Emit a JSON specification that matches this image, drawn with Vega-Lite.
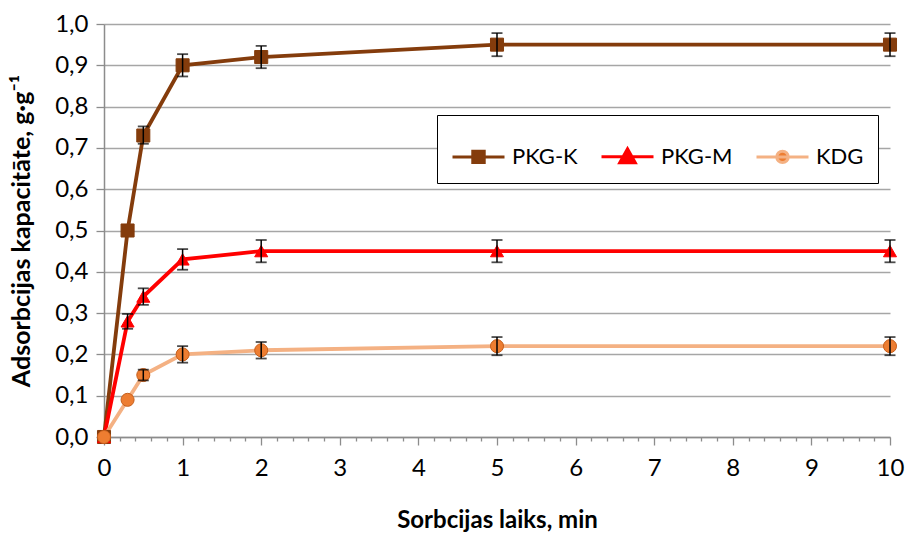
{
  "$schema": "https://vega.github.io/schema/vega-lite/v6.json",
  "width": 786,
  "height": 413,
  "autosize": {"type": "none"},
  "padding": {"left": 104, "top": 24, "right": 17, "bottom": 96},
  "background": "white",
  "config": {
    "view": {"stroke": null},
    "font": "Lato",
    "axis": {"labelFont": "Lato", "titleFont": "Lato", "labelColor": "black", "titleColor": "black"}
  },
  "data": {
    "values": [
      {"series": "PKG-K", "t": 0, "v": 0},
      {"series": "PKG-K", "t": 0.3, "v": 0.5},
      {"series": "PKG-K", "t": 0.5, "v": 0.73, "lo": 0.71, "hi": 0.752},
      {"series": "PKG-K", "t": 1, "v": 0.9, "lo": 0.873, "hi": 0.927},
      {"series": "PKG-K", "t": 2, "v": 0.92, "lo": 0.893, "hi": 0.947},
      {"series": "PKG-K", "t": 5, "v": 0.95, "lo": 0.922, "hi": 0.978},
      {"series": "PKG-K", "t": 10, "v": 0.95, "lo": 0.922, "hi": 0.978},
      {"series": "PKG-M", "t": 0, "v": 0},
      {"series": "PKG-M", "t": 0.3, "v": 0.28, "lo": 0.262, "hi": 0.298},
      {"series": "PKG-M", "t": 0.5, "v": 0.34, "lo": 0.32, "hi": 0.36},
      {"series": "PKG-M", "t": 1, "v": 0.43, "lo": 0.405, "hi": 0.455},
      {"series": "PKG-M", "t": 2, "v": 0.45, "lo": 0.423, "hi": 0.477},
      {"series": "PKG-M", "t": 5, "v": 0.45, "lo": 0.423, "hi": 0.477},
      {"series": "PKG-M", "t": 10, "v": 0.45, "lo": 0.423, "hi": 0.477},
      {"series": "KDG", "t": 0, "v": 0},
      {"series": "KDG", "t": 0.3, "v": 0.09},
      {"series": "KDG", "t": 0.5, "v": 0.15, "lo": 0.137, "hi": 0.163},
      {"series": "KDG", "t": 1, "v": 0.2, "lo": 0.18, "hi": 0.22},
      {"series": "KDG", "t": 2, "v": 0.21, "lo": 0.19, "hi": 0.23},
      {"series": "KDG", "t": 5, "v": 0.22, "lo": 0.198, "hi": 0.242},
      {"series": "KDG", "t": 10, "v": 0.22, "lo": 0.198, "hi": 0.242}
    ]
  },
  "encoding": {
    "x": {
      "field": "t",
      "type": "quantitative",
      "scale": {"domain": [0, 10], "nice": false},
      "axis": {
        "title": "Sorbcijas laiks, min",
        "titleFontSize": 24,
        "titleFontWeight": "bold",
        "titlePadding": 28,
        "labelFontSize": 24,
        "labelPadding": 11,
        "labelOverlap": false,
        "labelBound": false,
        "labelFlush": false,
        "grid": false,
        "domainColor": "#8c8c8c",
        "domainWidth": 1.5,
        "tickColor": "#8c8c8c",
        "tickWidth": 1.3,
        "tickSize": {"condition": {"test": "datum.value % 1 !== 0", "value": 4}, "value": 8},
        "values": [0, 0.2, 0.4, 0.6, 0.8, 1, 1.2, 1.4, 1.6, 1.8, 2, 2.2, 2.4, 2.6, 2.8, 3, 3.2, 3.4, 3.6, 3.8, 4, 4.2, 4.4, 4.6, 4.8, 5, 5.2, 5.4, 5.6, 5.8, 6, 6.2, 6.4, 6.6, 6.8, 7, 7.2, 7.4, 7.6, 7.8, 8, 8.2, 8.4, 8.6, 8.8, 9, 9.2, 9.4, 9.6, 9.8, 10],
        "labelExpr": "datum.value % 1 === 0 ? format(datum.value, 'd') : ''"
      }
    },
    "y": {
      "field": "v",
      "type": "quantitative",
      "scale": {"domain": [0, 1], "nice": false},
      "axis": {
        "title": "Adsorbcijas kapacitāte, g·g⁻¹",
        "titleFontSize": 25,
        "titleFontWeight": "bold",
        "titlePadding": 20,
        "labelFontSize": 24,
        "labelPadding": 8,
        "values": [0, 0.1, 0.2, 0.3, 0.4, 0.5, 0.6, 0.7, 0.8, 0.9, 1],
        "labelExpr": "replace(format(datum.value, '.1f'), '.', ',')",
        "gridColor": "#a6a6a6",
        "gridWidth": 1.3,
        "domainColor": "#8c8c8c",
        "domainWidth": 1.5,
        "tickColor": "#8c8c8c",
        "tickWidth": 1.3,
        "tickSize": 8
      }
    }
  },
  "layer": [
    {
      "transform": [{"filter": "datum.t === 0"}],
      "mark": {"type": "point", "filled": true, "opacity": 0, "strokeWidth": 3},
      "encoding": {
        "shape": {
          "field": "series",
          "type": "nominal",
          "scale": {
            "domain": ["PKG-K", "PKG-M", "KDG"],
            "range": [
              "M-1,0H1M-0.22,-0.22H0.22V0.22H-0.22Z",
              "M-1,0H1M0,-0.3L0.3,0.24H-0.3Z",
              "M-1,0H1M-0.22,0A0.22,0.22,0,1,0,0.22,0A0.22,0.22,0,1,0,-0.22,0Z"
            ]
          },
          "legend": {
            "title": null,
            "orient": "none",
            "legendX": 333,
            "legendY": 91,
            "direction": "horizontal",
            "columns": 3,
            "strokeColor": "black",
            "fillColor": "white",
            "padding": 14,
            "columnPadding": 17,
            "labelFontSize": 22,
            "labelFont": "Lato",
            "labelColor": "black",
            "labelOffset": 6,
            "symbolSize": 2704,
            "symbolStrokeWidth": 3,
            "symbolOpacity": 1
          }
        },
        "fill": {
          "field": "series",
          "type": "nominal",
          "scale": {"domain": ["PKG-K", "PKG-M", "KDG"], "range": ["#843C0C", "#FF0000", "#ED7D31"]}
        },
        "stroke": {
          "field": "series",
          "type": "nominal",
          "scale": {"domain": ["PKG-K", "PKG-M", "KDG"], "range": ["#843C0C", "#FF0000", "#F4B183"]}
        }
      }
    },
    {
      "mark": {"type": "line", "strokeWidth": 3.8},
      "encoding": {
        "color": {
          "field": "series",
          "type": "nominal",
          "scale": {"domain": ["PKG-K", "PKG-M", "KDG"], "range": ["#843C0C", "#FF0000", "#F4B183"]},
          "legend": null
        }
      }
    },
    {
      "mark": {"type": "point", "filled": true, "opacity": 1, "size": 170, "strokeWidth": 1},
      "encoding": {
        "shape": {
          "field": "series",
          "type": "nominal",
          "scale": {"domain": ["PKG-K", "PKG-M", "KDG"], "range": ["square", "triangle-up", "circle"]},
          "legend": null
        },
        "fill": {
          "field": "series",
          "type": "nominal",
          "scale": {"domain": ["PKG-K", "PKG-M", "KDG"], "range": ["#843C0C", "#FF0000", "#ED7D31"]},
          "legend": null
        },
        "stroke": {
          "field": "series",
          "type": "nominal",
          "scale": {"domain": ["PKG-K", "PKG-M", "KDG"], "range": ["#843C0C", "#FF0000", "#C65F1C"]},
          "legend": null
        }
      }
    },
    {
      "transform": [{"filter": "isValid(datum.lo)"}],
      "mark": {
        "type": "errorbar",
        "ticks": {"color": "black", "size": 11, "thickness": 1.8},
        "rule": {"color": "black", "strokeWidth": 1.5}
      },
      "encoding": {
        "y": {"field": "lo", "type": "quantitative"},
        "y2": {"field": "hi"}
      }
    }
  ],
  "resolve": {"scale": {"shape": "independent", "fill": "independent", "stroke": "independent"}}
}
